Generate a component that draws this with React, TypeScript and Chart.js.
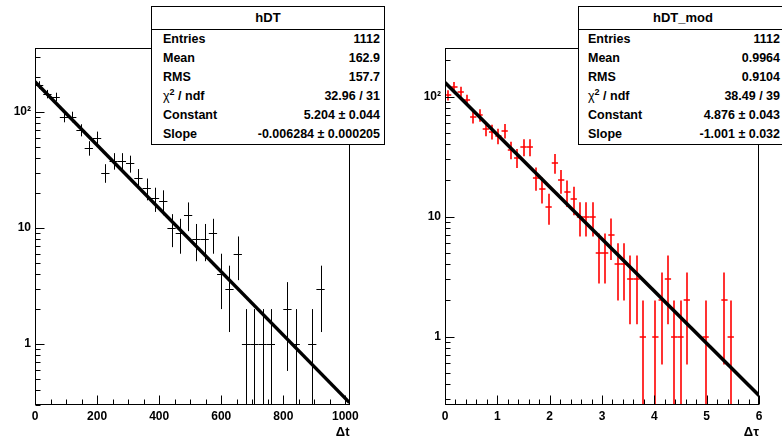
import React, { useEffect, useRef } from "react";
import { Chart, registerables } from "chart.js";

Chart.register(...registerables);

const FONT = '"Liberation Sans", Arial, Helvetica, sans-serif';

// ---------- Left histogram: hDT (Δt) ----------
const DT_BIN_CENTERS = [
  13.33, 40.0, 66.67, 93.33, 120.0, 146.67, 173.33, 200.0, 226.67, 253.33,
  280.0, 306.67, 333.33, 360.0, 386.67, 413.33, 440.0, 466.67, 493.33, 520.0,
  546.67, 573.33, 600.0, 626.67, 653.33, 680.0, 706.67, 733.33, 760.0, 813.33,
  840.0, 893.33, 920.0,
];
const DT_COUNTS = [
  171, 143, 135, 91, 91, 70, 49, 60, 30, 38,
  38, 36, 27, 22, 18, 17, 10, 9, 13, 8,
  8, 9, 4, 3, 6, 1, 1, 1, 1, 2,
  1, 1, 3,
];
const DT_BIN_WIDTH = 26.667;
const DT_X_RANGE = [0, 1013.33];
const DT_Y_RANGE = [0.298, 356];
const DT_X_TICKS = [0, 200, 400, 600, 800, 1000];
const DT_FIT = { constant: 5.204, slope: -0.006284 };
const DT_STATS_TITLE = "hDT";
const DT_STATS = [
  ["Entries", "1112"],
  ["Mean", "162.9"],
  ["RMS", "157.7"],
  ["CHI", "32.96 / 31"],
  ["Constant", "5.204 \u00b1 0.044"],
  ["Slope", "-0.006284 \u00b1 0.000205"],
];

// ---------- Right histogram: hDT_mod (Δτ) ----------
const DTAU_BIN_CENTERS = [
  0.06, 0.18, 0.3, 0.42, 0.54, 0.66, 0.78, 0.9, 1.02, 1.14,
  1.26, 1.38, 1.5, 1.62, 1.74, 1.86, 1.98, 2.1, 2.22, 2.34,
  2.46, 2.58, 2.7, 2.82, 2.94, 3.06, 3.18, 3.3, 3.42, 3.54,
  3.66, 3.78, 4.02, 4.14, 4.26, 4.38, 4.5, 4.62, 4.98, 5.34,
  5.46,
];
const DTAU_COUNTS = [
  103, 121, 110, 94, 68, 70, 54, 51, 47, 52,
  36, 31, 38, 38, 21, 17, 12, 28, 20, 16,
  14, 10, 10, 10, 5, 5, 7, 4, 4, 3,
  3, 1, 1, 2, 3, 1, 1, 2, 1, 2,
  1,
];
const DTAU_BIN_WIDTH = 0.12;
const DTAU_X_RANGE = [0, 6];
const DTAU_Y_RANGE = [0.269, 254];
const DTAU_X_TICKS = [0, 1, 2, 3, 4, 5, 6];
const DTAU_FIT = { constant: 4.876, slope: -1.001 };
const DTAU_STATS_TITLE = "hDT_mod";
const DTAU_STATS = [
  ["Entries", "1112"],
  ["Mean", "0.9964"],
  ["RMS", "0.9104"],
  ["CHI", "38.49 / 39"],
  ["Constant", "4.876 \u00b1 0.043"],
  ["Slope", "-1.001 \u00b1 0.032"],
];

const Y_TICKS = [1, 10, 100];

// ROOT-like frame, inward ticks and error-bar crosses
const rootPlugin = {
  id: "rootFrame",
  beforeDatasetsDraw(chart: any) {
    const o = chart.options.plugins.rootFrame;
    const { ctx, chartArea: a } = chart;
    const xs = chart.scales.x;
    const ys = chart.scales.y;
    const ds = chart.data.datasets[0];
    ctx.save();
    ctx.beginPath();
    ctx.rect(a.left, a.top, a.right - a.left, a.bottom - a.top);
    ctx.clip();
    ctx.strokeStyle = o.barColor;
    ctx.lineWidth = o.barWidth;
    const off = o.barOffset;
    ds.data.forEach((p: any) => {
      const n = p.y;
      const e = Math.sqrt(n);
      const px = Math.round(xs.getPixelForValue(p.x)) + off;
      const py = Math.round(ys.getPixelForValue(n)) + off;
      const x0 = xs.getPixelForValue(p.x - o.binWidth / 2);
      const x1 = xs.getPixelForValue(p.x + o.binWidth / 2);
      const ylo = n - e > 0 ? ys.getPixelForValue(n - e) : a.bottom;
      const yhi = ys.getPixelForValue(n + e);
      ctx.beginPath();
      ctx.moveTo(x0, py);
      ctx.lineTo(x1, py);
      ctx.moveTo(px, ylo);
      ctx.lineTo(px, yhi);
      ctx.stroke();
    });
    ctx.restore();
  },
  afterDraw(chart: any) {
    const o = chart.options.plugins.rootFrame;
    const { ctx, chartArea: a } = chart;
    const xs = chart.scales.x;
    const ys = chart.scales.y;
    ctx.save();
    ctx.strokeStyle = "#000";
    ctx.lineWidth = 1;
    const L = Math.round(a.left) + 0.5;
    const R = Math.round(a.right) - 0.5;
    const T = Math.round(a.top) + 0.5;
    const B = Math.round(a.bottom) - 0.5;
    ctx.strokeRect(L, T, R - L, B - T);
    ctx.beginPath();
    // x ticks
    for (let v = xs.min; v <= xs.max + 1e-9; v += o.xMinorStep) {
      const vv = Math.round(v / o.xMinorStep) * o.xMinorStep;
      const isMajor = Math.abs(vv / o.xMajorStep - Math.round(vv / o.xMajorStep)) < 1e-6;
      const px = Math.round(xs.getPixelForValue(vv)) + 0.5;
      const len = isMajor ? o.majorLen : o.minorLen;
      ctx.moveTo(px, B);
      ctx.lineTo(px, B - len);
    }
    // y ticks (log)
    for (let d = 0.1; d <= 1000; d *= 10) {
      for (let m = 1; m <= 9; m++) {
        const v = m * d;
        if (v < ys.min || v > ys.max) continue;
        const py = Math.round(ys.getPixelForValue(v)) + 0.5;
        const len = m === 1 ? o.majorLen : o.minorLen;
        ctx.moveTo(L, py);
        ctx.lineTo(L + len, py);
      }
    }
    ctx.stroke();
    ctx.restore();
  },
};

type PanelCfg = {
  canvasLeft: number;
  canvasWidth: number;
  yAxisWidth: number;
  padRight: number;
  centers: number[];
  counts: number[];
  binWidth: number;
  xRange: number[];
  yRange: number[];
  xTicks: number[];
  xMajorStep: number;
  xMinorStep: number;
  fit: { constant: number; slope: number };
  barColor: string;
  barWidth: number;
  barOffset: number;
  xTitle: string;
};

function Panel({ cfg }: { cfg: PanelCfg }) {
  const ref = useRef<HTMLCanvasElement>(null);
  useEffect(() => {
    const fitY = (x: number) => Math.exp(cfg.fit.constant + cfg.fit.slope * x);
    const tickFont = { family: FONT, weight: "bold" as const, size: 12 };
    const chart = new Chart(ref.current as HTMLCanvasElement, {
      type: "scatter",
      data: {
        datasets: [
          {
            type: "scatter",
            label: "hist",
            data: cfg.centers.map((c, i) => ({ x: c, y: cfg.counts[i] })),
            pointRadius: 0,
            pointHoverRadius: 0,
            showLine: false,
          } as any,
          {
            type: "line",
            label: "fit",
            data: [
              { x: cfg.xRange[0], y: fitY(cfg.xRange[0]) },
              { x: cfg.xRange[1], y: fitY(cfg.xRange[1]) },
            ],
            borderColor: "#000",
            borderWidth: 3.5,
            pointRadius: 0,
            fill: false,
            tension: 0,
          } as any,
        ],
      },
      options: {
        responsive: false,
        animation: false,
        events: [],
        layout: { padding: { left: 0, top: 48, right: cfg.padRight, bottom: 0 } },
        plugins: {
          legend: { display: false },
          tooltip: { enabled: false },
          rootFrame: {
            barColor: cfg.barColor,
            barWidth: cfg.barWidth,
            barOffset: cfg.barOffset,
            binWidth: cfg.binWidth,
            xMajorStep: cfg.xMajorStep,
            xMinorStep: cfg.xMinorStep,
            majorLen: 9,
            minorLen: 5,
          },
        } as any,
        scales: {
          x: {
            type: "linear",
            min: cfg.xRange[0],
            max: cfg.xRange[1],
            grid: { display: false, drawTicks: false },
            border: { display: false },
            afterBuildTicks: (s: any) => {
              s.ticks = cfg.xTicks.map((v) => ({ value: v }));
            },
            afterFit: (s: any) => {
              s.height = 34;
            },
            ticks: {
              color: "#000",
              font: tickFont,
              padding: 4,
              maxRotation: 0,
              autoSkip: false,
              callback: (v: any) => String(v),
            },
            title: {
              display: true,
              text: cfg.xTitle,
              align: "end",
              color: "#000",
              font: { family: FONT, weight: "bold", size: 13, lineHeight: 1 },
              padding: 0,
            },
          },
          y: {
            type: "logarithmic",
            min: cfg.yRange[0],
            max: cfg.yRange[1],
            grid: { display: false, drawTicks: false },
            border: { display: false },
            afterBuildTicks: (s: any) => {
              s.ticks = Y_TICKS.map((v) => ({ value: v }));
            },
            afterFit: (s: any) => {
              s.width = cfg.yAxisWidth;
            },
            ticks: {
              color: "#000",
              font: tickFont,
              padding: 4,
              autoSkip: false,
              callback: (v: any) => (v === 100 ? "10\u00b2" : String(v)),
            },
          },
        } as any,
      },
      plugins: [rootPlugin as any],
    });
    return () => chart.destroy();
  }, []);
  return (
    <canvas
      ref={ref}
      width={cfg.canvasWidth}
      height={439}
      style={{
        position: "absolute",
        left: cfg.canvasLeft,
        top: 0,
        width: cfg.canvasWidth,
        height: 439,
      }}
    />
  );
}

function StatsBox({
  left,
  width,
  title,
  rows,
  padLeft,
  padRight,
}: {
  left: number;
  width: number;
  title: string;
  rows: string[][];
  padLeft: number;
  padRight: number;
}) {
  return (
    <div
      style={{
        position: "absolute",
        left,
        top: 6,
        width,
        height: 139,
        boxSizing: "border-box",
        background: "#fff",
        border: "1px solid #000",
        fontFamily: FONT,
        fontWeight: "bold",
        fontSize: 12.5,
        color: "#000",
      }}
    >
      <div
        style={{
          height: 22,
          lineHeight: "22px",
          textAlign: "center",
          borderBottom: "1px solid #000",
          fontSize: 13,
        }}
      >
        {title}
      </div>
      {rows.map(([k, v]) => (
        <div
          key={k}
          style={{
            display: "flex",
            justifyContent: "space-between",
            height: 19,
            lineHeight: "19px",
            paddingLeft: padLeft,
            paddingRight: padRight,
            whiteSpace: "nowrap",
          }}
        >
          <span>
            {k === "CHI" ? (
              <>
                <span style={{ fontWeight: "normal" }}>{"\u03c7"}</span>
                <span style={{ fontSize: 9, position: "relative", top: -5 }}>2</span>
                {" / ndf"}
              </>
            ) : (
              k
            )}
          </span>
          <span>{v}</span>
        </div>
      ))}
    </div>
  );
}

const LEFT_CFG: PanelCfg = {
  canvasLeft: 0,
  canvasWidth: 391,
  yAxisWidth: 35,
  padRight: 391 - 349.5,
  centers: DT_BIN_CENTERS,
  counts: DT_COUNTS,
  binWidth: DT_BIN_WIDTH,
  xRange: DT_X_RANGE,
  yRange: DT_Y_RANGE,
  xTicks: DT_X_TICKS,
  xMajorStep: 200,
  xMinorStep: 50,
  fit: DT_FIT,
  barColor: "#000000",
  barWidth: 1,
  barOffset: 0.5,
  xTitle: "\u0394t",
};

const RIGHT_CFG: PanelCfg = {
  canvasLeft: 391,
  canvasWidth: 391,
  yAxisWidth: 445 - 391,
  padRight: 391 - (759 - 391),
  centers: DTAU_BIN_CENTERS,
  counts: DTAU_COUNTS,
  binWidth: DTAU_BIN_WIDTH,
  xRange: DTAU_X_RANGE,
  yRange: DTAU_Y_RANGE,
  xTicks: DTAU_X_TICKS,
  xMajorStep: 1,
  xMinorStep: 0.2,
  fit: DTAU_FIT,
  barColor: "#ff0000",
  barWidth: 1.6,
  barOffset: 0,
  xTitle: "\u0394\u03c4",
};

export default function App() {
  return (
    <div
      style={{
        position: "absolute",
        left: 0,
        top: 0,
        width: 782,
        height: 439,
        background: "#fff",
        overflow: "hidden",
      }}
    >
      <Panel cfg={LEFT_CFG} />
      <Panel cfg={RIGHT_CFG} />
      <StatsBox left={151} width={234} title={DT_STATS_TITLE} rows={DT_STATS} padLeft={11} padRight={4} />
      <StatsBox left={578} width={210} title={DTAU_STATS_TITLE} rows={DTAU_STATS} padLeft={9} padRight={7} />
    </div>
  );
}
